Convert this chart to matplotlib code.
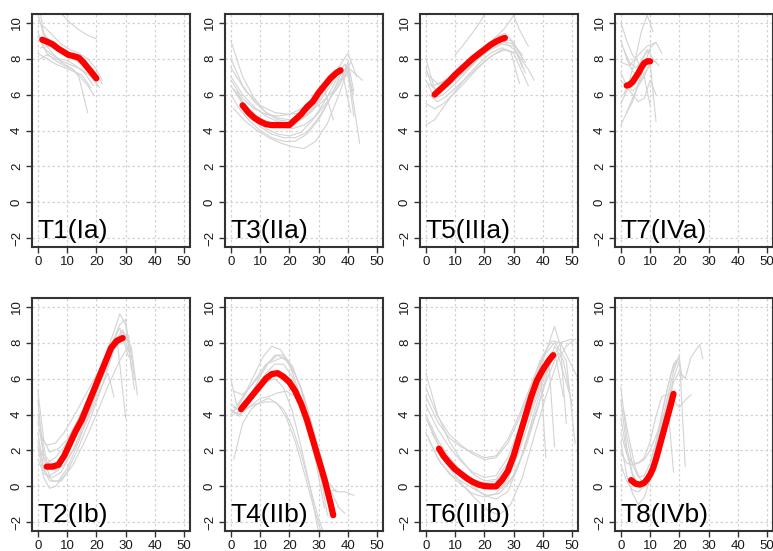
import matplotlib
matplotlib.use('Agg')
import matplotlib.pyplot as plt

plt.rcParams['font.family'] = ['Liberation Sans', 'DejaVu Sans']

# panel labels, in drawing order (top row then bottom row)
labels = ['T1(Ia)', 'T3(IIa)', 'T5(IIIa)', 'T7(IVa)',
          'T2(Ib)', 'T4(IIb)', 'T6(IIIb)', 'T8(IVb)']

x_ticks = [0, 10, 20, 30, 40, 50]
y_ticks = [-2, 0, 2, 4, 6, 8, 10]

# ---- mean curves (red) ----
t1_red_x = [1.5, 3, 5, 7, 9, 10.5, 12, 14, 15.5, 17, 18.5, 20]
t1_red_y = [9.05, 8.95, 8.8, 8.55, 8.35, 8.2, 8.15, 8.05, 7.8, 7.5, 7.2, 6.9]

t3_red_x = [4, 6, 8, 10, 12, 14, 16, 18, 20, 22, 24, 26, 28, 30, 32, 34, 36, 37.5]
t3_red_y = [5.4, 5.0, 4.7, 4.5, 4.35, 4.3, 4.3, 4.3, 4.3, 4.6, 4.9, 5.3, 5.6, 6.1, 6.5, 6.9, 7.2, 7.35]

t5_red_x = [3, 5, 8, 10, 12, 14, 16, 18, 20, 22, 24, 26, 27]
t5_red_y = [6.0, 6.3, 6.75, 7.1, 7.4, 7.7, 8.0, 8.25, 8.5, 8.75, 8.95, 9.1, 9.15]

t7_red_x = [2, 3, 4, 5, 6, 7, 8, 9, 10]
t7_red_y = [6.5, 6.55, 6.7, 6.95, 7.2, 7.5, 7.75, 7.85, 7.85]

t2_red_x = [3, 5, 7, 9, 11, 13, 15, 17, 19, 21, 23, 25, 27, 29]
t2_red_y = [1.1, 1.1, 1.2, 1.7, 2.4, 3.1, 3.7, 4.5, 5.3, 6.1, 6.9, 7.7, 8.1, 8.25]

t4_red_x = [3.5, 6, 8, 10, 12, 14, 16, 18, 20, 22, 24, 26, 28, 30, 32, 34, 35]
t4_red_y = [4.3, 4.8, 5.2, 5.6, 6.0, 6.25, 6.3, 6.1, 5.8, 5.3, 4.6, 3.7, 2.6, 1.5, 0.4, -0.9, -1.6]

t6_red_x = [4.5, 6, 8, 10, 12, 14, 16, 18, 20, 22, 24, 26, 28, 30, 32, 34, 36, 38, 40, 42, 43.5]
t6_red_y = [2.1, 1.7, 1.3, 0.95, 0.7, 0.45, 0.25, 0.1, 0.02, 0.0, 0.0, 0.35, 0.85, 1.7, 2.8,
            3.9, 5.0, 5.9, 6.5, 7.0, 7.3]

t8_red_x = [3.5, 5, 6.5, 8, 9, 10, 11, 12, 13, 14, 15, 16, 17, 18]
t8_red_y = [0.35, 0.15, 0.1, 0.2, 0.4, 0.65, 1.0, 1.5, 2.1, 2.7, 3.3, 3.9, 4.5, 5.15]

# ---- individual curves (grey), each entry is (x, y) ----
t1_gray = [
    ([0, 2, 5, 8, 11, 14, 17, 20], [10.5, 9.3, 8.8, 8.4, 8.1, 7.8, 7.3, 6.7]),
    ([1, 3, 6, 9, 12, 15, 18, 21], [8.0, 8.2, 8.0, 7.8, 7.6, 7.4, 7.0, 6.4]),
    ([0, 2, 4, 7, 10, 13, 16, 19], [9.5, 8.6, 8.3, 8.0, 7.9, 7.6, 7.2, 6.5]),
    ([1, 3, 6, 9, 12, 14, 17], [9.0, 8.3, 7.9, 7.6, 7.4, 7.0, 5.0]),
    ([8, 11, 14, 17, 20], [10.5, 10.0, 9.6, 9.3, 9.1]),
    ([1, 4, 7, 10, 13, 16, 19, 22], [8.6, 8.7, 8.5, 8.3, 8.2, 7.9, 7.4, 6.6]),
    ([0, 2, 5, 8, 11, 14, 17, 19], [9.2, 8.9, 8.3, 7.8, 7.5, 7.1, 6.5, 6.0]),
    ([1, 2, 4, 7, 10, 13, 16, 20], [10.4, 9.4, 9.0, 8.5, 8.3, 8.2, 8.0, 7.0]),
    ([0, 3, 6, 9, 12, 15, 18], [8.3, 8.0, 7.7, 7.5, 7.3, 7.1, 6.4]),
    ([2, 5, 8, 11, 14, 17, 20, 22], [9.8, 9.3, 8.8, 8.5, 8.3, 8.0, 7.4, 6.8]),
]

t3_gray = [
    ([0, 4, 8, 12, 16, 20, 24, 28, 32, 36, 40, 43], [9.0, 7.0, 5.8, 5.0, 4.6, 4.5, 4.6, 5.2, 6.2, 7.3, 8.3, 7.0]),
    ([0, 4, 8, 12, 16, 20, 24, 28, 32, 36, 40, 44], [6.5, 5.5, 4.7, 4.1, 3.8, 3.7, 3.9, 4.6, 5.6, 6.8, 7.6, 3.3]),
    ([0, 4, 8, 12, 16, 20, 24, 28, 32, 36, 39, 42], [7.0, 6.0, 5.3, 4.8, 4.5, 4.4, 4.6, 5.1, 6.0, 7.0, 7.7, 6.0]),
    ([0, 3, 6, 10, 14, 18, 22, 26, 30, 34, 38, 41], [6.0, 5.2, 4.6, 4.0, 3.6, 3.4, 3.4, 3.8, 4.6, 5.8, 7.3, 5.0]),
    ([1, 5, 9, 13, 17, 21, 25, 29, 33, 37, 40, 45], [5.2, 4.5, 4.0, 3.6, 3.3, 3.1, 3.0, 3.4, 4.4, 6.0, 7.5, 6.8]),
    ([0, 4, 8, 12, 16, 20, 24, 28, 32, 36, 40], [6.8, 5.8, 5.2, 4.9, 4.8, 4.9, 5.2, 5.8, 6.5, 7.3, 7.0]),
    ([0, 5, 10, 15, 20, 25, 30, 35, 38, 41], [7.5, 6.2, 5.4, 5.0, 4.9, 5.0, 5.4, 6.2, 7.0, 7.8]),
    ([2, 6, 10, 14, 18, 22, 26, 30, 34, 38, 40, 42], [6.2, 5.0, 4.2, 3.8, 3.6, 3.6, 3.9, 4.7, 5.8, 6.8, 7.3, 4.8]),
    ([0, 4, 8, 12, 16, 20, 24, 28, 32, 35], [8.0, 6.5, 5.6, 5.0, 4.7, 4.6, 4.8, 5.4, 6.3, 4.6]),
    ([1, 5, 9, 13, 17, 21, 25, 29, 33, 37, 40, 42], [6.3, 5.4, 4.8, 4.4, 4.2, 4.1, 4.3, 4.8, 5.6, 6.5, 7.8, 6.2]),
]

t5_gray = [
    ([0, 3, 6, 10, 14, 18, 22, 26, 30, 33], [8.0, 6.3, 6.3, 6.8, 7.4, 8.0, 8.5, 8.8, 8.7, 7.5]),
    ([0, 3, 6, 10, 14, 18, 22, 26, 30, 35], [4.3, 4.6, 5.3, 6.2, 7.0, 7.7, 8.3, 8.6, 8.3, 6.5]),
    ([0, 3, 6, 10, 14, 18, 22, 26, 30, 34], [6.8, 5.8, 6.0, 6.6, 7.3, 8.0, 8.6, 9.0, 8.8, 7.8]),
    ([0, 2, 5, 9, 13, 17, 21, 25, 29, 33], [7.5, 6.5, 6.6, 7.1, 7.7, 8.3, 8.8, 9.1, 9.0, 8.2]),
    ([1, 4, 7, 11, 15, 19, 23, 27, 31, 35, 37], [6.0, 5.6, 5.9, 6.5, 7.1, 7.7, 8.2, 8.5, 8.3, 7.4, 6.8]),
    ([0, 4, 8, 12, 16, 20, 24, 27, 30, 33], [7.2, 6.6, 6.9, 7.4, 8.0, 8.7, 9.2, 9.4, 8.9, 8.0]),
    ([10, 14, 18, 21], [8.2, 9.0, 9.9, 10.7]),
    ([24, 27, 30, 32, 35], [9.2, 9.7, 10.4, 9.6, 8.7]),
    ([0, 3, 6, 10, 14, 18, 22, 26, 29, 32], [5.5, 5.2, 5.5, 6.1, 6.8, 7.5, 8.1, 8.5, 8.4, 6.6]),
    ([1, 4, 7, 11, 15, 19, 23, 27, 31, 34], [6.6, 6.2, 6.5, 7.0, 7.6, 8.2, 8.7, 8.9, 8.4, 7.2]),
]

t7_gray = [
    ([0, 2, 4, 6, 8, 10, 12], [9.0, 8.0, 7.3, 7.0, 7.5, 8.0, 7.8]),
    ([0, 2, 4, 6, 8, 10], [4.3, 5.0, 5.8, 6.5, 7.2, 7.6]),
    ([1, 3, 5, 7, 9, 11], [6.0, 6.8, 8.0, 9.5, 10.4, 9.5]),
    ([0, 2, 4, 6, 8, 10, 12], [7.2, 6.5, 6.2, 6.5, 7.0, 7.8, 4.5]),
    ([0, 2, 4, 6, 8, 10], [5.5, 6.2, 6.8, 7.5, 8.2, 8.5]),
    ([1, 3, 5, 7, 9, 11, 13], [8.5, 7.8, 7.5, 7.8, 8.5, 8.0, 7.6]),
    ([0, 2, 4, 6, 8, 10, 12], [6.8, 6.4, 6.0, 5.6, 5.8, 6.8, 6.0]),
    ([0, 2, 4, 6, 8, 10], [10.0, 9.0, 8.2, 7.8, 7.0, 5.4]),
    ([2, 4, 6, 8, 10, 12], [5.0, 5.6, 6.6, 7.6, 8.6, 8.9]),
    ([0, 3, 6, 9, 12, 14], [7.8, 7.6, 8.2, 8.7, 8.9, 8.3]),
]

t2_gray = [
    ([0, 2, 4, 7, 10, 14, 18, 22, 26, 28, 30, 33], [4.8, 1.5, 0.6, 0.9, 1.8, 3.4, 5.0, 6.8, 8.6, 9.6, 9.0, 5.4]),
    ([0, 2, 4, 7, 10, 14, 18, 22, 26, 29, 31], [3.0, 1.0, 0.3, 0.3, 1.0, 2.5, 4.3, 6.1, 7.9, 8.6, 7.5]),
    ([0, 2, 4, 7, 10, 14, 18, 22, 26, 29, 32, 34], [5.3, 2.6, 1.9, 2.1, 2.6, 3.8, 5.2, 6.6, 8.0, 8.7, 7.7, 5.1]),
    ([0, 2, 4, 6, 10, 14, 18, 22, 26, 30], [2.2, 0.5, -0.1, 0.0, 0.8, 2.2, 3.8, 5.6, 7.6, 8.4]),
    ([0, 2, 5, 8, 12, 16, 20, 24, 27, 30], [3.6, 1.8, 1.2, 1.4, 2.5, 3.9, 5.4, 7.1, 8.3, 3.8]),
    ([0, 2, 5, 8, 12, 16, 20, 24, 27, 31, 33], [1.5, 0.7, 0.5, 0.8, 2.0, 3.6, 5.2, 6.8, 8.0, 8.4, 6.0]),
    ([1, 3, 6, 9, 13, 17, 21, 25, 28, 31], [2.8, 2.3, 2.4, 3.0, 4.1, 5.3, 6.5, 7.9, 8.8, 7.2]),
    ([0, 3, 6, 9, 13, 17, 21, 24, 26], [4.0, 1.4, 0.9, 1.2, 2.3, 3.7, 5.3, 6.3, 5.0]),
    ([0, 2, 5, 8, 12, 16, 20, 24, 28, 31], [2.5, 0.9, 0.3, 0.3, 1.2, 2.5, 4.0, 5.6, 7.0, 7.8]),
    ([1, 3, 6, 9, 13, 17, 21, 25, 28, 30, 32], [2.0, 1.3, 1.6, 2.2, 3.4, 4.8, 6.3, 7.8, 9.0, 9.3, 6.5]),
]

t4_gray = [
    ([0, 2, 5, 8, 11, 14, 17, 20, 23, 26, 29, 32], [6.0, 4.5, 5.2, 6.2, 7.2, 7.8, 7.6, 6.8, 5.4, 3.6, 1.4, -1.2]),
    ([0, 3, 6, 9, 12, 15, 18, 21, 24, 27, 30, 33], [4.2, 4.0, 4.8, 5.8, 6.7, 7.3, 7.3, 6.7, 5.4, 3.5, 1.2, -1.6]),
    ([1, 4, 7, 10, 13, 16, 19, 22, 25, 28, 31], [1.5, 3.5, 4.3, 4.7, 4.9, 4.6, 3.8, 2.5, 0.8, -1.0, -2.6]),
    ([0, 3, 6, 9, 12, 15, 18, 21, 24, 27, 30, 33, 36, 39, 42],
     [4.0, 4.6, 5.4, 6.1, 6.8, 7.0, 7.2, 6.6, 5.5, 3.8, 2.0, 0.3, -0.3, -0.3, -0.5]),
    ([0, 3, 6, 9, 12, 15, 18, 21, 24, 27, 30, 32], [3.9, 4.2, 4.4, 4.6, 4.7, 4.7, 4.3, 3.3, 1.8, 0.0, -1.8, -2.7]),
    ([1, 4, 7, 10, 13, 16, 19, 22, 25, 28, 31, 34, 37, 39],
     [5.3, 5.1, 5.6, 6.2, 6.9, 7.3, 7.0, 6.2, 5.0, 3.3, 1.5, -0.2, -1.2, -1.5]),
    ([0, 3, 6, 9, 12, 15, 18, 21, 24, 27, 30], [4.6, 4.2, 4.7, 5.3, 5.8, 6.0, 5.5, 4.2, 2.2, 0.0, -2.6]),
    ([1, 4, 7, 10, 13, 16, 19, 22, 25, 28, 31, 33], [4.4, 4.1, 4.5, 4.9, 5.0, 5.2, 5.3, 5.0, 4.0, 2.5, 0.6, -0.5]),
    ([0, 3, 6, 9, 12, 15, 18, 21, 24, 27, 30, 33, 36], [4.3, 3.9, 4.6, 5.5, 6.3, 6.8, 6.8, 6.1, 4.8, 3.1, 1.2, -0.3, -0.2]),
]

t6_gray = [
    ([0, 4, 8, 12, 16, 20, 24, 28, 32, 36, 40, 44, 46, 48],
     [6.3, 4.0, 2.5, 1.5, 0.7, 0.3, 0.4, 1.3, 3.0, 5.0, 7.0, 8.9, 7.8, 3.5]),
    ([0, 4, 8, 12, 16, 20, 24, 28, 32, 36, 40, 44, 47],
     [3.0, 1.6, 0.7, 0.1, -0.4, -0.6, -0.4, 0.4, 2.0, 4.0, 6.0, 7.5, 5.0]),
    ([0, 4, 8, 12, 16, 20, 24, 28, 32, 36, 40, 43, 46, 49, 52],
     [5.0, 3.6, 2.7, 2.2, 1.9, 1.6, 1.7, 2.6, 4.0, 5.7, 7.3, 8.1, 8.0, 7.0, 6.0]),
    ([0, 4, 8, 12, 16, 20, 24, 28, 32, 36, 40, 42, 44],
     [4.0, 2.6, 1.6, 0.9, 0.4, 0.2, 0.3, 1.0, 2.5, 4.3, 6.2, 7.0, 2.2]),
    ([1, 5, 9, 13, 17, 21, 25, 29, 33, 37, 41, 45, 48, 51],
     [3.5, 2.0, 0.8, 0.0, -0.7, -1.3, -1.6, -1.0, 0.5, 2.8, 5.0, 7.0, 7.8, 8.2]),
    ([0, 4, 8, 12, 16, 20, 24, 28, 32, 36, 40, 44, 48, 51],
     [4.5, 3.2, 2.2, 1.4, 0.8, 0.5, 0.6, 1.6, 3.3, 5.3, 7.2, 8.0, 7.0, 2.4]),
    ([1, 5, 9, 13, 17, 21, 25, 29, 33, 37, 41, 45, 49],
     [2.6, 1.3, 0.6, 0.2, -0.2, -0.5, -0.4, 0.3, 1.8, 3.8, 5.8, 7.4, 5.2]),
    ([0, 4, 8, 12, 16, 20, 24, 28, 32, 36, 39, 41],
     [5.5, 3.9, 2.9, 2.3, 1.8, 1.5, 1.6, 2.4, 3.8, 5.5, 7.0, 1.6]),
    ([2, 6, 10, 14, 18, 22, 26, 30, 34, 38, 42, 46, 50],
     [3.0, 1.8, 0.9, 0.4, 0.1, -0.1, -0.1, 0.6, 2.1, 4.2, 6.6, 8.0, 8.2]),
    ([0, 4, 8, 12, 16, 20, 24, 28, 32, 36, 40, 44, 47, 50],
     [3.8, 2.4, 1.4, 0.7, 0.0, -0.5, -0.7, -0.3, 1.3, 3.5, 5.8, 7.8, 7.0, 4.5]),
]

t8_gray = [
    ([0, 2, 4, 6, 8, 10, 12, 14, 16, 18, 20, 22], [5.5, 2.8, 1.2, 0.5, 0.6, 1.3, 2.5, 4.0, 5.5, 6.8, 7.2, 1.1]),
    ([0, 2, 4, 6, 8, 10, 12, 14, 16, 18, 20], [3.8, 1.9, 0.6, 0.0, 0.2, 0.9, 2.2, 3.6, 5.0, 6.4, 7.3]),
    ([0, 2, 4, 6, 8, 10, 12, 14, 16, 18], [1.9, 1.3, 1.2, 1.3, 1.6, 2.5, 3.9, 5.0, 5.1, 5.0]),
    ([0, 2, 4, 6, 8, 10, 12, 14, 16, 18, 20, 22, 24, 27, 28],
     [4.8, 2.2, 0.7, 0.1, 0.1, 0.6, 1.8, 3.2, 4.5, 5.8, 6.4, 6.0, 7.2, 7.9, 7.1]),
    ([0, 2, 4, 6, 8, 10, 12, 14, 16, 18], [2.5, 0.6, -0.4, -1.0, -0.6, 0.4, 1.8, 3.4, 4.6, 0.8]),
    ([0, 2, 4, 6, 8, 10, 12, 14, 16, 18, 20, 22, 24], [3.0, 1.8, 1.3, 1.3, 1.5, 2.0, 2.8, 3.7, 4.4, 4.8, 4.4, 4.8, 5.1]),
    ([1, 3, 5, 7, 9, 11, 13, 15, 17, 19], [4.2, 2.5, 1.0, 0.3, 0.4, 1.5, 3.2, 4.8, 6.2, 7.0]),
    ([0, 2, 4, 6, 8, 10, 12, 14, 16, 18, 20, 21], [1.2, 0.3, -0.2, -0.3, 0.0, 0.7, 1.8, 3.2, 4.7, 6.0, 7.0, 6.0]),
]

red_x = [t1_red_x, t3_red_x, t5_red_x, t7_red_x, t2_red_x, t4_red_x, t6_red_x, t8_red_x]
red_y = [t1_red_y, t3_red_y, t5_red_y, t7_red_y, t2_red_y, t4_red_y, t6_red_y, t8_red_y]
grays = [t1_gray, t3_gray, t5_gray, t7_gray, t2_gray, t4_gray, t6_gray, t8_gray]

W, H = 773, 551
fig = plt.figure(figsize=(W / 100, H / 100), dpi=100)
fig.patch.set_facecolor('white')

col_left = [32, 225, 420, 615]
row_top = [14, 298]
pw, ph = 158, 233

for i in range(8):
    r, c = divmod(i, 4)
    ax = fig.add_axes([col_left[c] / W, 1 - (row_top[r] + ph) / H, pw / W, ph / H])
    ax.set_xlim(-2, 52)
    ax.set_ylim(-2.48, 10.48)
    ax.set_xticks(x_ticks)
    ax.set_yticks(y_ticks)
    ax.grid(True, color='#d3d3d3', linestyle=(0, (2, 2)), linewidth=0.9)
    ax.set_axisbelow(True)

    for gx, gy in grays[i]:
        ax.plot(gx, gy, color='#d3d3d3', lw=0.8, zorder=2)
    ax.plot(red_x[i], red_y[i], color='red', lw=4.5, solid_capstyle='round',
            solid_joinstyle='round', zorder=3)

    ax.text(-0.3, -2.0, labels[i], fontsize=19, ha='left', va='baseline', color='black', zorder=4)

    for s in ax.spines.values():
        s.set_color('#333333')
        s.set_linewidth(1.5)
    ax.tick_params(direction='out', length=4, width=1, color='#333333',
                   labelsize=9.5, labelcolor='#1a1a1a', pad=2.5)
    for lab in ax.get_yticklabels():
        lab.set_rotation(90)
        lab.set_va('center')

fig.savefig('out.png', dpi=100)
